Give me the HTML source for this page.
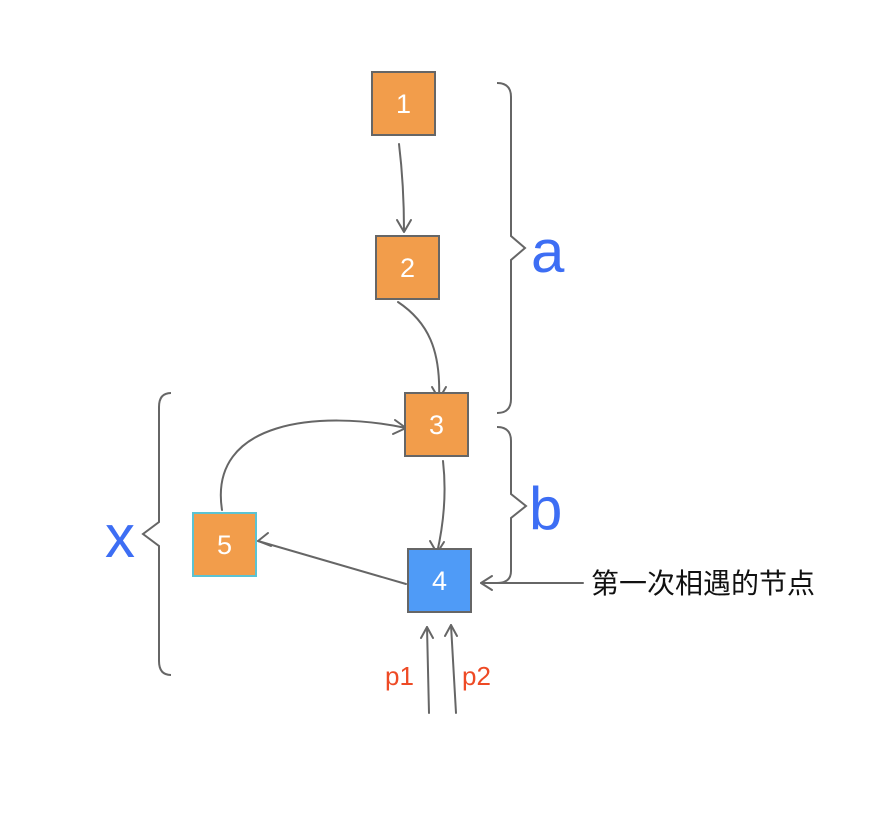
<!DOCTYPE html>
<html>
<head>
<meta charset="utf-8">
<style>
  html, body { margin: 0; padding: 0; background: #ffffff; }
  svg { display: block; }
</style>
</head>
<body>
<svg width="888" height="816" viewBox="0 0 888 816" xmlns="http://www.w3.org/2000/svg">
  <rect x="0" y="0" width="888" height="816" fill="#ffffff"/>

  <!-- Braces -->
  <g fill="none" stroke="#666666" stroke-width="2" stroke-linejoin="miter">
    <path d="M497,83 Q511,83 511,97 L511,236 L525,248 L511,260 L511,399 Q511,413 497,413"/>
    <path d="M497,427 Q511,427 511,441 L511,494 L526,506 L511,518 L511,571 Q511,583 497,583"/>
    <path d="M171,393 Q159,393 159,407 L159,522 L143,534 L159,546 L159,661 Q159,675 171,675"/>
  </g>

  <!-- Connectors -->
  <g fill="none" stroke="#666666" stroke-width="2" stroke-linecap="round" stroke-linejoin="round">
    <path d="M399,144 Q404,185 404,231"/>
    <path d="M397,220 L404,232 L411,220"/>
    <path d="M398,302 C428,322 441,350 439,399"/>
    <path d="M432,387 L439,399 L446,387"/>
    <path d="M443,461 Q448,505 437,553"/>
    <path d="M430,541 L437,553 L444,542"/>
    <path d="M406,584 L258,541"/>
    <path d="M268,533 L258,541 L271,546"/>
    <path d="M222,510 C208,420 320,410 406,428"/>
    <path d="M395,420 L406,428 L393,434"/>
    <path d="M583,583 L481,583"/>
    <path d="M492,576 L481,583 L492,590"/>
    <path d="M429,713 L427,627"/>
    <path d="M421,638 L427,627 L433,638"/>
    <path d="M456,713 L451,625"/>
    <path d="M445,636 L451,625 L457,636"/>
  </g>

  <!-- Nodes -->
  <g stroke="#666666" stroke-width="2">
    <rect x="372" y="72" width="63" height="63" fill="#f29d4b"/>
    <rect x="376" y="236" width="63" height="63" fill="#f29d4b"/>
    <rect x="405" y="393" width="63" height="63" fill="#f29d4b"/>
    <rect x="408" y="549" width="63" height="63" fill="#4f9bf7"/>
  </g>
  <rect x="193" y="513" width="63" height="63" fill="#f29d4b" stroke="#5bc3d3" stroke-width="2"/>

  <!-- Node labels -->
  <g font-family="'Liberation Sans', sans-serif" font-size="27" fill="#ffffff" text-anchor="middle">
    <text x="403.5" y="113">1</text>
    <text x="407.5" y="277">2</text>
    <text x="436.5" y="434">3</text>
    <text x="439.5" y="590">4</text>
    <text x="224.5" y="554">5</text>
  </g>

  <!-- Brace labels -->
  <g font-family="'Liberation Sans', sans-serif" font-size="60" fill="#3d6ef4">
    <text x="531" y="272">a</text>
    <text x="529" y="529">b</text>
    <text x="105" y="557">x</text>
  </g>

  <!-- Pointer labels -->
  <g font-family="'Liberation Sans', sans-serif" font-size="26" fill="#ee4a25">
    <text x="385" y="685">p1</text>
    <text x="462" y="685">p2</text>
  </g>

  <!-- Annotation -->
  <text x="591" y="593" font-family="'Liberation Sans', 'Noto Sans CJK SC', sans-serif" font-size="28" fill="#111111">第一次相遇的节点</text>
</svg>
</body>
</html>
